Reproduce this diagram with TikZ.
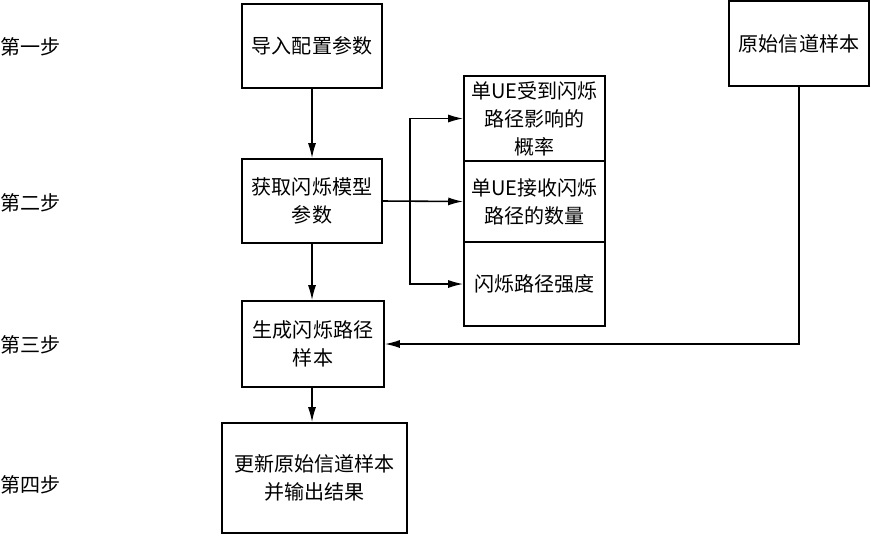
\documentclass[tikz,border=0pt]{standalone}
\usepackage{fontspec}
\newfontfamily\cjk{Noto Sans CJK SC}
\usetikzlibrary{arrows.meta}

\begin{document}
\begin{tikzpicture}[x=0.02cm,y=-0.02cm,
		box/.style={draw=black, line width=0.9pt, align=center, inner sep=0pt,
			font=\cjk\fontsize{11.4}{16}\selectfont},
		steplabel/.style={anchor=west, inner sep=0pt, font=\cjk\fontsize{11.4}{16}\selectfont},
		arr/.style={line width=0.9pt, -{Latex[length=0.3cm,width=0.16cm]}}]
				\useasboundingbox (0,0) rectangle (871,535);
				%
				\node [steplabel] (s1) at (0,47) {第一步};
				\node [steplabel] (s2) at (0,203) {第二步};
				\node [steplabel] (s3) at (0,345) {第三步};
				\node [steplabel] (s4) at (0,485) {第四步};
				%
				\node [box, minimum width=2.8cm, minimum height=1.68cm] (load) at (312,46) {导入配置参数};
				\node [box, minimum width=2.8cm, minimum height=1.68cm] (param) at (312,201) {获取闪烁模型\\参数};
				\node [box, minimum width=2.84cm, minimum height=1.72cm] (gen) at (313,344) {生成闪烁路径\\样本};
				\node [box, minimum width=3.7cm, minimum height=2.2cm] (update) at (314.5,478) {更新原始信道样本\\并输出结果};
				%
				\node [box, minimum width=2.82cm, minimum height=1.7cm] (prob) at (534.5,118.5) {单UE受到闪烁\\路径影响的\\概率};
				\node [box, minimum width=2.82cm, minimum height=1.62cm] (num) at (534.5,201.5) {单UE接收闪烁\\路径的数量};
				\node [box, minimum width=2.82cm, minimum height=1.68cm] (power) at (534.5,284) {闪烁路径强度};
				%
				\node [box, minimum width=2.8cm, minimum height=1.7cm] (orig) at (799,43.5) {原始信道样本};
				%
				\coordinate (fork) at (410,201.5);
				\draw [arr] (load) -- (param);
				\draw [arr] (param) -- (gen.north -| param.south);
				\draw [arr] (gen.south -| param.south) -- (update.north -| param.south);
				\draw [arr] (param.east) -- (num.west);
				\draw [arr] (fork) |- (prob.west);
				\draw [arr] (fork) |- (power.west);
				\draw [arr] (orig.south) |- (gen.east);
		
			\end{tikzpicture}
\end{document}
